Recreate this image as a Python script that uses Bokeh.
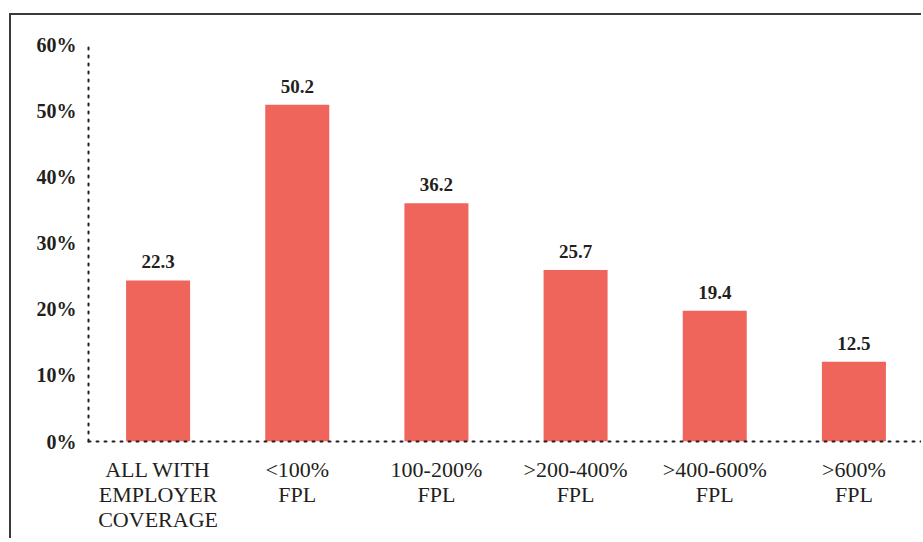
from bokeh.plotting import figure
from bokeh.models import ColumnDataSource, FixedTicker, LabelSet, Range1d, FactorRange
from bokeh.embed import file_html
from bokeh.resources import INLINE

categories = ["ALL WITH\nEMPLOYER\nCOVERAGE", "<100%\nFPL", "100-200%\nFPL",
              ">200-400%\nFPL", ">400-600%\nFPL", ">600%\nFPL"]
bar_heights = [24.4, 51.0, 36.1, 26.0, 19.8, 12.1]
value_labels = ["22.3", "50.2", "36.2", "25.7", "19.4", "12.5"]
y_ticks = [0, 10, 20, 30, 40, 50, 60]
y_tick_labels = ["0%", "10%", "20%", "30%", "40%", "50%", "60%"]

FONT = "Liberation Serif"
TXT = "#231f20"
BAR = "#ef645b"

src = ColumnDataSource(dict(cat=categories, h=bar_heights, lbl=value_labels))

p = figure(x_range=FactorRange(factors=categories, range_padding=0),
           y_range=Range1d(0, 60.45),
           width=912, height=525, output_backend="svg", toolbar_location=None,
           min_border_left=77, min_border_top=27, min_border_right=0, min_border_bottom=99)
p.styles = {"border-left": "2px solid #3a3a3a", "border-top": "2px solid #3a3a3a",
            "margin-left": "9px", "margin-top": "13px"}
p.outline_line_color = None
p.xgrid.grid_line_color = None
p.ygrid.grid_line_color = None
p.background_fill_color = "white"
p.border_fill_color = "white"

p.vbar(x="cat", top="h", width=0.46, source=src, color=BAR, line_color=None)

labels = LabelSet(x="cat", y="h", text="lbl", source=src, y_offset=12,
                  text_align="center", text_baseline="bottom",
                  text_font=FONT, text_font_size="19px", text_font_style="bold",
                  text_color=TXT)
p.add_layout(labels)

for ax in (p.xaxis[0], p.yaxis[0]):
    ax.axis_line_dash = "2 6"
    ax.axis_line_width = 2
    ax.axis_line_color = TXT
    ax.axis_line_cap = "round"
    ax.major_tick_line_color = None
    ax.minor_tick_line_color = None
    ax.major_tick_out = 0
    ax.major_tick_in = 0
    ax.major_label_text_font = FONT
    ax.major_label_text_color = TXT

p.yaxis.ticker = FixedTicker(ticks=y_ticks)
p.yaxis.major_label_overrides = dict(zip(y_ticks, y_tick_labels))
p.yaxis.major_label_text_font_size = "20px"
p.yaxis.major_label_text_font_style = "bold"
p.yaxis.major_label_standoff = 12

p.xaxis.major_label_text_font_size = "22px"
p.xaxis.major_label_text_line_height = 1.0
p.xaxis.major_label_standoff = 15

open("out.html", "w").write(file_html(p, INLINE))
